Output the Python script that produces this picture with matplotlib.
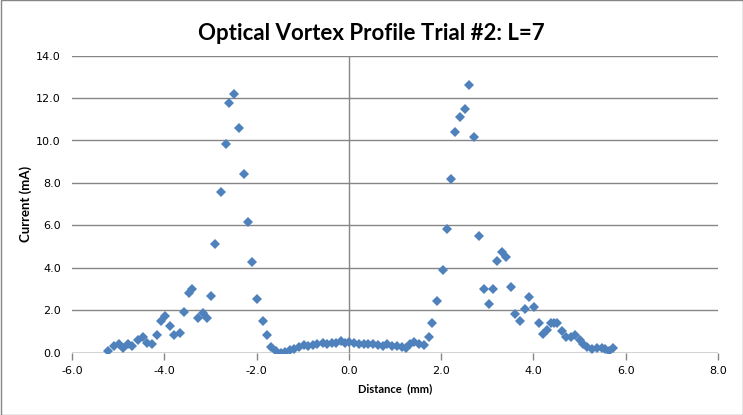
import matplotlib.pyplot as plt
from matplotlib.patches import Rectangle

# ---- DATA ----
distance_mm = [
    -5.21, -5.10, -4.98, -4.89, -4.78, -4.69, -4.58, -4.47, -4.37, -4.27,
    -4.16, -4.07, -3.98, -3.88, -3.78, -3.67, -3.58, -3.47, -3.39, -3.27,
    -3.17, -3.08, -2.98, -2.90, -2.78, -2.67, -2.59, -2.48, -2.37, -2.28,
    -2.18, -2.09, -1.98, -1.87, -1.78, -1.68, -1.58, -1.47, -1.38, -1.27,
    -1.18, -1.08, -0.98, -0.88, -0.78, -0.68, -0.57, -0.48, -0.37, -0.28,
    -0.17, -0.08, 0.01, 0.12, 0.22, 0.32, 0.42, 0.53, 0.63, 0.74,
    0.82, 0.93, 1.04, 1.15, 1.24, 1.33, 1.42, 1.51, 1.62, 1.73,
    1.81, 1.92, 2.03, 2.12, 2.22, 2.30, 2.41, 2.52, 2.61, 2.72,
    2.81, 2.92, 3.03, 3.12, 3.22, 3.32, 3.41, 3.52, 3.60, 3.71,
    3.82, 3.91, 4.02, 4.11, 4.20, 4.29, 4.38, 4.45, 4.51, 4.62,
    4.70, 4.81, 4.90, 5.00, 5.08, 5.17, 5.27, 5.37, 5.48, 5.55,
    5.63, 5.72,
]
current_ma = [
    0.08, 0.32, 0.40, 0.20, 0.40, 0.32, 0.59, 0.75, 0.43, 0.39,
    0.83, 1.49, 1.72, 1.27, 0.81, 0.90, 1.90, 2.79, 2.98, 1.61,
    1.88, 1.61, 2.68, 5.10, 7.58, 9.85, 11.78, 12.19, 10.58, 8.41,
    6.17, 4.28, 2.51, 1.49, 0.81, 0.27, 0.08, 0.00, 0.04, 0.12,
    0.15, 0.27, 0.34, 0.31, 0.34, 0.42, 0.43, 0.40, 0.43, 0.43,
    0.52, 0.43, 0.50, 0.43, 0.40, 0.40, 0.40, 0.40, 0.35, 0.32,
    0.40, 0.32, 0.30, 0.28, 0.21, 0.40, 0.51, 0.40, 0.35, 0.72,
    1.38, 2.43, 3.89, 5.81, 8.17, 10.39, 11.09, 11.47, 12.62, 10.18,
    5.50, 3.00, 2.27, 3.00, 4.32, 4.75, 4.49, 3.07, 1.80, 1.49,
    2.05, 2.60, 2.16, 1.38, 0.87, 1.06, 1.38, 1.40, 1.41, 1.03,
    0.72, 0.72, 0.83, 0.59, 0.40, 0.25, 0.17, 0.20, 0.20, 0.15,
    0.08, 0.20,
]

x_ticks = [-6.0, -4.0, -2.0, 0.0, 2.0, 4.0, 6.0, 8.0]
y_ticks = [0.0, 2.0, 4.0, 6.0, 8.0, 10.0, 12.0, 14.0]

blue = "#4F81BD"
gray = "#868686"

fig = plt.figure(figsize=(7.43, 4.15), dpi=100)
ax = fig.add_axes([72 / 743, 1 - 352.5 / 415, 646 / 743, 296.8 / 415])

ax.plot(distance_mm, current_ma, linestyle="none", marker="D",
        markersize=5.2, color=blue, markeredgewidth=0, zorder=3)

ax.set_xlim(-6, 8)
ax.set_ylim(0, 14)
ax.set_xticks(x_ticks)
ax.set_yticks(y_ticks)
ax.set_xticklabels([f"{v:.1f}" for v in x_ticks])
ax.set_yticklabels([f"{v:.1f}" for v in y_ticks])

for s in ax.spines.values():
    s.set_visible(False)
ax.grid(axis="y", color=gray, linewidth=1)
ax.set_axisbelow(True)
ax.axhline(0, color=gray, linewidth=1, zorder=2)
ax.axvline(0, color=gray, linewidth=1, zorder=2)

ax.tick_params(axis="x", direction="out", length=5, width=1, color=gray,
               labelsize=8, pad=5)
ax.tick_params(axis="y", length=0, labelsize=8, pad=8)

ax.set_xlabel("Distance  (mm)", fontsize=8, fontweight="bold",
              family="Lato", labelpad=5)
ax.set_ylabel("Current (mA)", fontsize=9.5, fontweight="bold",
              family="Lato", labelpad=3)
fig.suptitle("Optical Vortex Profile Trial #2: L=7", fontsize=16,
             fontweight="bold", family="Lato", y=0.945)

# chart area border
fig.add_artist(Rectangle((0.5 / 743, 0.5 / 415), 742 / 743, 414 / 415,
                         transform=fig.transFigure, fill=False,
                         edgecolor=gray, linewidth=1))

fig.savefig("out.png", dpi=100)
